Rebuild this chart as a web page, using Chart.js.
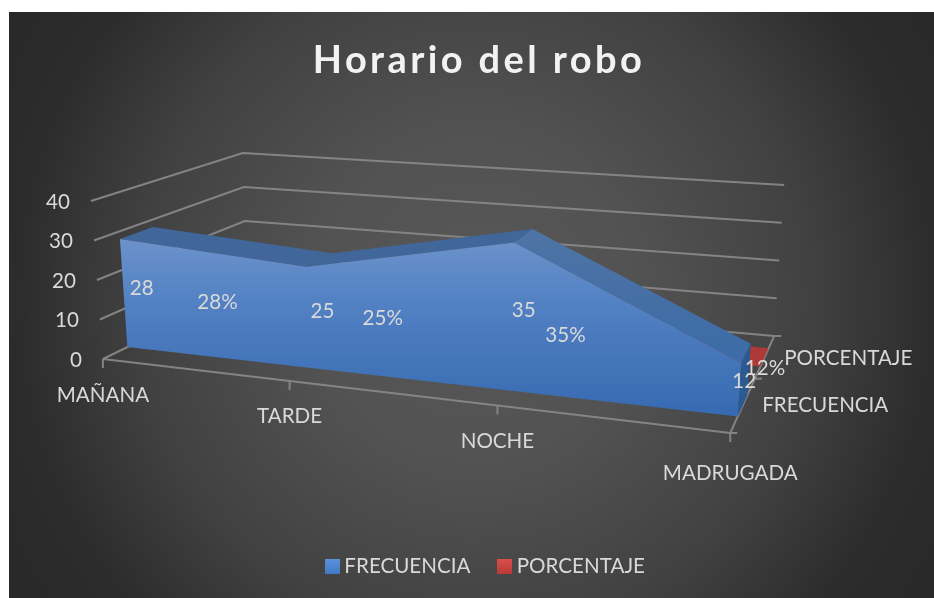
<!DOCTYPE html>
<html><head><meta charset="utf-8">
<style>html,body{margin:0;padding:0;background:#fff}#w{width:934px;height:598px;position:relative}canvas{display:block}</style>
<script src="https://cdn.jsdelivr.net/npm/chart.js@4"></script></head>
<body><div id="w"><canvas id="c" width="934" height="598"></canvas></div>
<script>
// ---- data ----
const categories = ['MAÑANA', 'TARDE', 'NOCHE', 'MADRUGADA'];
const frecuencia = [28, 25, 35, 12];
const porcentaje = [28, 25, 35, 12];
const valueTicks = [0, 10, 20, 30, 40];
const seriesNames = ['FRECUENCIA', 'PORCENTAJE'];

// ---- 3D box geometry (the projection of the category / value / series axes) ----
const MAXV = 40, K = 1.18;
const FL0 = [103, 359], FL1 = [91, 201], BL0 = [247, 289], BL1 = [243, 153];
const FR0 = [731, 433], FR1 = [743, 249], BR0 = [775, 336], BR1 = [785, 185];
const BLUE_D = [0.17, 0.39], RED_D = [0.68, 0.87];
const LABEL_D = [0.28, 0.79];
const mix = (a, b, u) => [a[0] + (b[0] - a[0]) * u, a[1] + (b[1] - a[1]) * u];
function project(i, v, d) {
  const t = i / (categories.length - 1), f = t / (t + K * (1 - t)), h = v / MAXV;
  const fr = mix(mix(FL0, FR0, f), mix(FL1, FR1, f), h);
  const bk = mix(mix(BL0, BR0, f), mix(BL1, BR1, f), h);
  const p = mix(fr, bk, d);
  return { x: p[0], y: p[1] };
}
const last = categories.length - 1;
const pctH = porcentaje.map(p => p / 100);

const cv = document.getElementById('c'), g = cv.getContext('2d');
const faceGrad = g.createLinearGradient(0, 235, 0, 420);
faceGrad.addColorStop(0, '#6e93cb'); faceGrad.addColorStop(.35, '#5382c4'); faceGrad.addColorStop(1, '#3569b0');
const topGrad3 = g.createLinearGradient(0, 230, 0, 350);
topGrad3.addColorStop(0, '#4f74a5'); topGrad3.addColorStop(1, '#3d6ca6');

function swatch(top, bottom) {
  const s = document.createElement('canvas'); s.width = 15; s.height = 15;
  const x = s.getContext('2d'), gr = x.createLinearGradient(0, 0, 0, 15);
  gr.addColorStop(0, top); gr.addColorStop(1, bottom);
  x.fillStyle = gr; x.fillRect(0, 0, 15, 15);
  return s;
}

const line = (data, extra) => Object.assign({ type: 'scatter', showLine: true, data, pointRadius: 0, pointHoverRadius: 0,
  borderColor: 'rgba(135,135,135,.95)', borderWidth: 2, fill: false, tension: 0, clip: false }, extra || {});
const poly = (label, data, color) => line(data.concat([data[0]]), { label, borderWidth: 0, borderColor: 'transparent', backgroundColor: color, fill: 'shape' });

const datasets = [];
// walls
valueTicks.forEach(v => {
  const a = project(0, v, 0), b = project(0, v, 1), c = project(last, v, 1);
  datasets.push(line([a, b, c]));
});
// floor: category axis, series axis, tick marks
datasets.push(line(categories.map((_, i) => project(i, 0, 0))));
datasets.push(line([project(last, 0, 0), project(last, 0, 1)]));
categories.forEach((_, i) => { const p = project(i, 0, 0); datasets.push(line([p, { x: p.x, y: p.y + 9 }])); });
[0, .56, 1].forEach(d => { const p = project(last, 0, d); datasets.push(line([p, { x: p.x + 7, y: p.y }])); });
// PORCENTAJE (flat band behind the first series)
datasets.push(poly(seriesNames[1],
  categories.map((_, i) => project(i, pctH[i], RED_D[0])).concat(categories.map((_, i) => project(i, pctH[i], RED_D[1])).reverse()),
  '#ad3a37'));
// FRECUENCIA: top ribbons, right side, front face
const topColors = ['#40669a', '#40669a', topGrad3];
for (let i = 0; i < last; i++) {
  datasets.push(poly(seriesNames[0] + ' sup', [
    project(i, frecuencia[i], BLUE_D[0]), project(i, frecuencia[i], BLUE_D[1]),
    project(i + 1, frecuencia[i + 1], BLUE_D[1]), project(i + 1, frecuencia[i + 1], BLUE_D[0])], topColors[i]));
}
datasets.push(poly(seriesNames[0] + ' lado', [
  project(last, 0, BLUE_D[0]), project(last, frecuencia[last], BLUE_D[0]),
  project(last, frecuencia[last], BLUE_D[1]), project(last, 0, BLUE_D[1])], '#2b5a93'));
datasets.push(poly(seriesNames[0],
  categories.map((_, i) => project(i, frecuencia[i], BLUE_D[0])).concat(categories.map((_, i) => project(i, 0, BLUE_D[0])).reverse()),
  faceGrad));
// later datasets on top
datasets.forEach((d, i) => { d.order = -i; });

const TXT = '#d9d9d9', FONT = '20.6px Lato';
const bgPlugin = { id: 'bg', beforeDraw(ch) {
  const c = ch.ctx; c.save();
  c.fillStyle = '#fff'; c.fillRect(0, 0, 934, 598);
  const r = c.createRadialGradient(475, 300, 0, 475, 300, 560);
  r.addColorStop(0, '#585858'); r.addColorStop(.3, '#525252'); r.addColorStop(.6, '#414141');
  r.addColorStop(.82, '#2c2c2c'); r.addColorStop(1, '#282828');
  c.fillStyle = r; c.fillRect(9, 12, 925, 586); c.restore();
  if (!ch._tw && ch.titleBlock) {
    ch._tw = 1;
    const tb = ch.titleBlock, d = tb.draw.bind(tb);
    tb.draw = function () { const o = ch.ctx.letterSpacing; ch.ctx.letterSpacing = '3.4px'; d(); ch.ctx.letterSpacing = o; };
    const lg = ch.legend, e = lg.draw.bind(lg);
    lg.draw = function () { ch.ctx.save(); ch.ctx.translate(9, 0); e(); ch.ctx.restore(); };
  }
} };
const labelPlugin = { id: 'lab', afterDatasetsDraw(ch) {
  const c = ch.ctx, X = ch.scales.x, Y = ch.scales.y;
  const put = (s, p, dx, dy, al) => { c.textAlign = al; c.fillText(s, X.getPixelForValue(p.x) + dx, Y.getPixelForValue(p.y) + dy); };
  c.save(); c.fillStyle = TXT; c.font = FONT; c.textBaseline = 'middle';
  valueTicks.forEach(v => put(String(v), project(0, v, 0), -21, 1, 'right'));
  const catDy = [36, 35, 36, 40];
  categories.forEach((n, i) => put(n, project(i, 0, 0), 0, catDy[i], 'center'));
  put(seriesNames[0], project(last, 0, .25), 21, -3, 'left');
  put(seriesNames[1], project(last, 0, .75), 21, -2, 'left');
  const pctDx = [1, 3, 4, 0];
  frecuencia.forEach((v, i) => put(String(v), project(i, v / 2, LABEL_D[0]), i === last ? 0 : 2, 2, 'center'));
  porcentaje.forEach((v, i) => put(v + '%', project(i, v / 100, LABEL_D[1]), pctDx[i], i === last ? 12 : 0, 'center'));
  c.restore();
} };

const chart = new Chart(cv, {
  data: { datasets },
  options: {
    responsive: false, animation: false, devicePixelRatio: 1,
    layout: { padding: { left: 24, top: 12, right: 0, bottom: 11 } },
    events: [],
    scales: { x: { type: 'linear', display: false }, y: { type: 'linear', display: false, reverse: true } },
    plugins: {
      tooltip: { enabled: false },
      title: { display: true, text: 'Horario del robo', color: '#f2f2f2', font: { family: 'Lato', size: 38, weight: 'bold' }, padding: { top: 26, bottom: 20 } },
      legend: { position: 'bottom', labels: {
        color: TXT, font: { family: 'Lato', size: 20.6 }, usePointStyle: true, pointStyleWidth: 3, boxHeight: 15, padding: 33,
        generateLabels: () => [
          { text: seriesNames[0], pointStyle: swatch('#5b92dd', '#3f78c4'), fontColor: TXT },
          { text: seriesNames[1], pointStyle: swatch('#d94f4a', '#b73a36'), fontColor: TXT }
        ] } }
    }
  },
  plugins: [bgPlugin, labelPlugin]
});
// make the hidden scales span the chart area 1:1 so the projection lands in the right place
const A = chart.chartArea;
chart.options.scales.x.min = A.left; chart.options.scales.x.max = A.right;
chart.options.scales.y.min = A.top; chart.options.scales.y.max = A.bottom;
chart.update('none');
</script></body></html>
